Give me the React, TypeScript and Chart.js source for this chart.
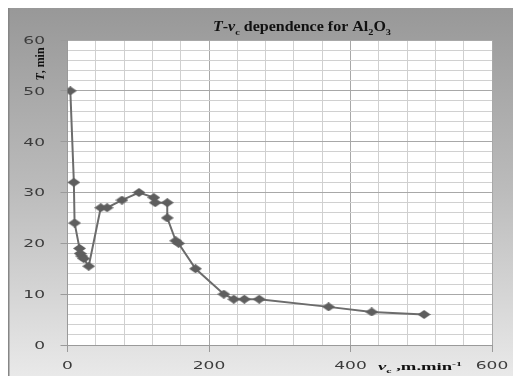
import React, { useEffect, useRef } from "react";
import { Chart, registerables } from "chart.js";

Chart.register(...registerables);

const vc = [4, 9, 10, 17, 18, 20, 23, 30, 47, 56, 77, 101, 122, 124, 141, 141, 153, 157, 181, 221, 235, 250, 271, 369, 430, 504];
const T = [50, 32, 24, 19, 18, 17.5, 17, 15.5, 27, 27, 28.5, 30, 29, 28, 28, 25, 20.5, 20, 15, 10, 9, 9, 9, 7.5, 6.5, 6];
const xTickLabels = [0, 200, 400, 600];
const yTickLabels = [0, 10, 20, 30, 40, 50, 60];

const SERIF = "'Liberation Serif', 'DejaVu Serif', serif";
const SANS = "'DejaVu Sans', Verdana, sans-serif";

type Piece = { t: string; italic?: boolean; sub?: boolean; sup?: boolean };

function drawRich(ctx: CanvasRenderingContext2D, pieces: Piece[], size: number, targetWidth: number, cx: number, baseline: number) {
  const fontFor = (p: Piece) => {
    const s = p.sub || p.sup ? Math.round(size * 0.65) : size;
    return `${p.italic ? "italic " : ""}bold ${s}px ${SERIF}`;
  };
  let w = 0;
  for (const p of pieces) {
    ctx.font = fontFor(p);
    w += ctx.measureText(p.t).width;
  }
  const sx = targetWidth / w;
  ctx.save();
  ctx.translate(cx - targetWidth / 2, baseline);
  ctx.scale(sx, 1);
  ctx.textAlign = "left";
  ctx.textBaseline = "alphabetic";
  let x = 0;
  for (const p of pieces) {
    ctx.font = fontFor(p);
    const dy = p.sub ? size * 0.25 : p.sup ? -size * 0.4 : 0;
    ctx.fillText(p.t, x, dy);
    x += ctx.measureText(p.t).width;
  }
  ctx.restore();
}

function makeDiamond(): HTMLCanvasElement {
  const c = document.createElement("canvas");
  c.width = 13;
  c.height = 9;
  const g = c.getContext("2d")!;
  g.fillStyle = "#5e5e5e";
  g.beginPath();
  g.moveTo(0, 4.5);
  g.lineTo(6.5, 0);
  g.lineTo(13, 4.5);
  g.lineTo(6.5, 9);
  g.closePath();
  g.fill();
  return c;
}

const decorPlugin = {
  id: "decor",
  beforeDraw(chart: any) {
    const { ctx, width, height, chartArea } = chart;
    ctx.save();
    const grad = ctx.createLinearGradient(0, 0, 0, height);
    grad.addColorStop(0, "#989898");
    grad.addColorStop(0.5, "#bcbcbc");
    grad.addColorStop(1, "#e9e9e9");
    ctx.fillStyle = grad;
    ctx.fillRect(0, 0, width, height);
    ctx.fillStyle = "#868686";
    ctx.fillRect(0, 0, 1.5, height);
    ctx.fillStyle = "#ffffff";
    ctx.fillRect(chartArea.left, chartArea.top, chartArea.right - chartArea.left, chartArea.bottom - chartArea.top);
    ctx.restore();
  },
  afterDraw(chart: any) {
    const { ctx } = chart;
    const xs = chart.scales.x;
    const ys = chart.scales.y;
    ctx.save();
    ctx.fillStyle = "#3c3c3c";
    ctx.font = `11px ${SANS}`;
    ctx.textBaseline = "middle";
    const sx = 1.55;
    for (const v of yTickLabels) {
      const py = ys.getPixelForValue(v);
      ctx.save();
      ctx.translate(37, py + 1);
      ctx.scale(sx, 1);
      ctx.textAlign = "right";
      ctx.fillText(String(v), 0, 0);
      ctx.restore();
    }
    for (const v of xTickLabels) {
      const px = xs.getPixelForValue(v);
      ctx.save();
      ctx.translate(px, 358);
      ctx.scale(sx, 1);
      ctx.textAlign = "center";
      ctx.fillText(String(v), 0, 0);
      ctx.restore();
    }
    ctx.fillStyle = "#111111";
    drawRich(
      ctx,
      [
        { t: "T", italic: true },
        { t: "-" },
        { t: "v", italic: true },
        { t: "c", sub: true },
        { t: " dependence for Al" },
        { t: "2", sub: true },
        { t: "O" },
        { t: "3", sub: true },
      ],
      14,
      178,
      294,
      23
    );
    drawRich(
      ctx,
      [
        { t: "v", italic: true },
        { t: "c", sub: true },
        { t: " ,m.min" },
        { t: "-1", sup: true },
      ],
      11,
      84,
      412,
      362
    );
    ctx.save();
    ctx.translate(36, 56);
    ctx.rotate(-Math.PI / 2);
    drawRich(ctx, [{ t: "T", italic: true }, { t: ", min" }], 13, 33, 0, 0);
    ctx.restore();
    ctx.restore();
  },
};

export default function App() {
  const ref = useRef<HTMLCanvasElement | null>(null);
  useEffect(() => {
    document.documentElement.style.overflow = "hidden";
    document.body.style.overflow = "hidden";
    if (!ref.current) return;
    const diamond = makeDiamond();
    const chart = new Chart(ref.current, {
      type: "scatter",
      data: {
        datasets: [
          {
            data: vc.map((x, i) => ({ x, y: T[i] })),
            showLine: true,
            borderColor: "#6c6c6c",
            borderWidth: 2,
            backgroundColor: "#5e5e5e",
            pointStyle: diamond as any,
            pointRadius: 6,
          },
        ],
      },
      options: {
        animation: false,
        responsive: false,
        layout: { padding: { top: 32, right: 29, left: 0, bottom: 0 } },
        plugins: { legend: { display: false }, title: { display: false }, tooltip: { enabled: false } },
        scales: {
          x: {
            type: "linear",
            min: 0,
            max: 600,
            ticks: { stepSize: 40, display: false, autoSkip: false },
            grid: {
              color: (c: any) => (c.tick && c.tick.value % 200 === 0 ? "#a8a8a8" : "#d0d0d0"),
              tickColor: (c: any) => (c.tick && c.tick.value % 200 === 0 ? "#9a9a9a" : "rgba(0,0,0,0)"),
              tickLength: 7,
              lineWidth: 1,
            },
            border: { color: "#9a9a9a", width: 1 },
            afterFit: (s: any) => {
              s.height = 31;
            },
          },
          y: {
            type: "linear",
            min: 0,
            max: 60,
            ticks: { stepSize: 2, display: false, autoSkip: false },
            grid: {
              color: (c: any) => (c.tick && c.tick.value % 10 === 0 ? "#a8a8a8" : "#d0d0d0"),
              tickColor: (c: any) => (c.tick && c.tick.value % 10 === 0 ? "#9a9a9a" : "rgba(0,0,0,0)"),
              tickLength: 7,
              lineWidth: 1,
            },
            border: { color: "#9a9a9a", width: 1 },
            afterFit: (s: any) => {
              s.width = 59.5;
            },
          },
        },
      },
      plugins: [decorPlugin],
    } as any);
    return () => chart.destroy();
  }, []);
  return (
    <div style={{ width: 513, height: 368 }}>
      <canvas ref={ref} width={513} height={368} style={{ display: "block" }} />
    </div>
  );
}
